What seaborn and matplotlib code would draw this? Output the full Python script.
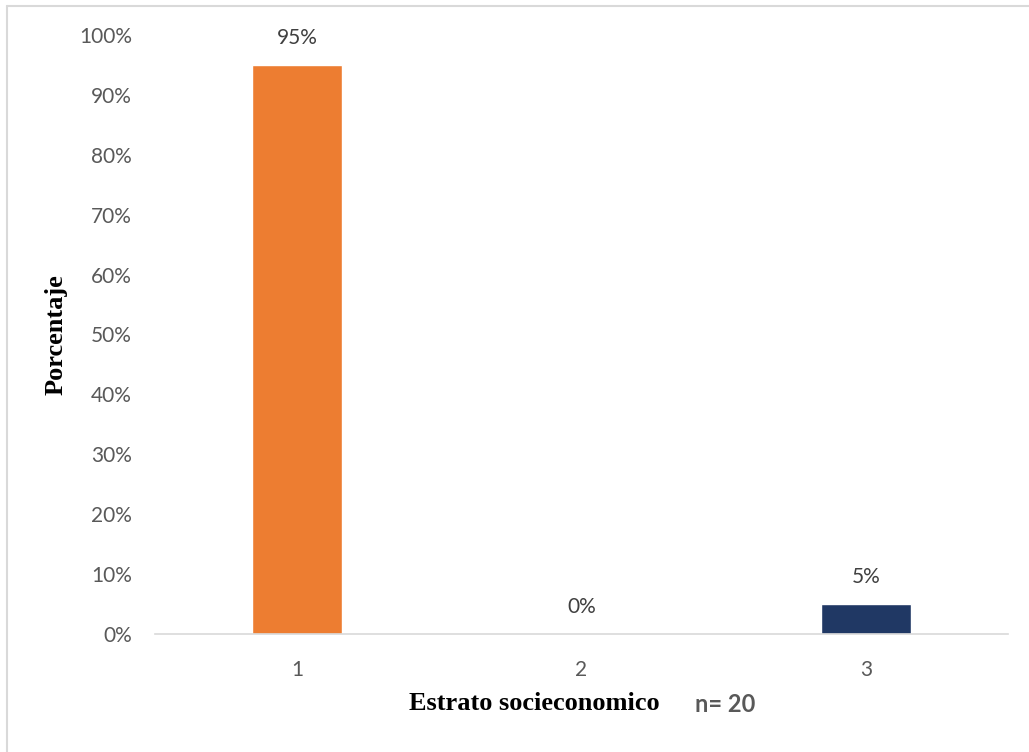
import matplotlib
matplotlib.use("Agg")
import matplotlib.pyplot as plt
import seaborn as sns
import pandas as pd
from matplotlib.lines import Line2D
from matplotlib.ticker import PercentFormatter

categories = ["1", "2", "3"]
values = [0.95, 0.0, 0.05]
labels = ["95%", "0%", "5%"]
colors = ["#ED7D31", "#A5A5A5", "#203864"]

sns.set_theme(style="white")
plt.rcParams["font.family"] = ["Lato", "DejaVu Sans"]

df = pd.DataFrame({"cat": categories, "val": values})

fig = plt.figure(figsize=(10.29, 7.52), dpi=100)
ax = fig.add_axes([155/1029, 1-634/752, (1008-155)/1029, (634-35)/752])

sns.barplot(data=df, x="cat", y="val", hue="cat", palette=colors, legend=False,
            width=0.315, saturation=1, ax=ax)

ax.set_ylim(0, 1)
ax.set_xlim(-0.5, 2.5)
ax.set_yticks([i/10 for i in range(11)])
ax.yaxis.set_major_formatter(PercentFormatter(1.0, decimals=0))
ax.tick_params(axis="both", length=0, labelsize=15, labelcolor="#595959")
ax.tick_params(axis="y", pad=16.5)
ax.tick_params(axis="x", pad=19)

for s in ["top", "right", "left"]:
    ax.spines[s].set_visible(False)
ax.spines["bottom"].set_color("#D9D9D9")
ax.spines["bottom"].set_linewidth(1.2)

for i, (v, t) in enumerate(zip(values, labels)):
    ax.annotate(t, (i, v), xytext=(0, 12), textcoords="offset points",
                ha="center", va="bottom", fontsize=15, color="#404040")

ax.set_xlabel("")
ax.set_ylabel("Porcentaje", fontsize=19, fontweight="bold", color="black",
              family=["Liberation Serif"], labelpad=8)

fig.text(534/1029, 1-704/752, "Estrato socieconomico", ha="center", va="center",
         fontsize=19, fontweight="bold", family=["Liberation Serif"], color="black")
fig.text(725/1029, 1-704/752, "n= 20", ha="center", va="center",
         fontsize=17, fontweight="bold", color="#595959")

fig.add_artist(Line2D([6.5/1029, 1], [1-5.5/752, 1-5.5/752], color="#D9D9D9", lw=1.5))
fig.add_artist(Line2D([6.5/1029, 6.5/1029], [0, 1-5.5/752], color="#D9D9D9", lw=1.5))

fig.savefig("out.png", dpi=100, facecolor="white")
